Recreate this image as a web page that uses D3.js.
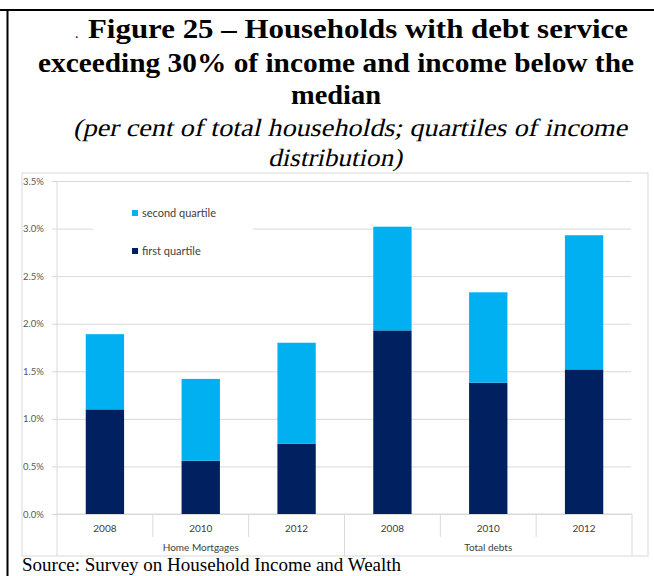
<!DOCTYPE html>
<html><head><meta charset="utf-8">
<script src="https://cdn.jsdelivr.net/npm/d3@7"></script>
<style>body{margin:0;background:#fff}svg{display:block}</style>
</head><body>
<svg id="c" width="654" height="576"></svg>
<script>
const years = ["2008","2010","2012","2008","2010","2012"];
const groups = ["Home Mortgages","Total debts"];
const groupOf = [0,0,0,1,1,1];
const firstQuartile = [1.10,0.56,0.74,1.93,1.38,1.52];
const secondQuartile = [0.79,0.86,1.06,1.09,0.95,1.41];
const yTicks = [0,0.5,1.0,1.5,2.0,2.5,3.0,3.5];
const seriesNames = ["second quartile","first quartile"];
const colors = {first:"#002060", second:"#00b0f0"};

(function(){
const svg = d3.select("#c");
const sans = "Lato, 'Open Sans', sans-serif";
const serif = "'Liberation Serif','Times New Roman',serif";
// page frame
svg.append("line").attr("x1",0).attr("x2",654).attr("y1",10).attr("y2",10).attr("stroke","#000").attr("stroke-width",2);
svg.append("line").attr("x1",7.5).attr("x2",7.5).attr("y1",10).attr("y2",576).attr("stroke","#000").attr("stroke-width",2);

// title
const titleLines = [
 {t:"Figure 25 \u2013 Households with debt service", x0:88, x1:628, y:38, bold:true, italic:false, fs:27},
 {t:"exceeding 30% of income and income below the", x0:38, x1:634, y:72, bold:true, italic:false, fs:27},
 {t:"median", x0:291, x1:381, y:104, bold:true, italic:false, fs:27},
 {t:"(per cent of total households; quartiles of income", x0:75, x1:629, y:136, bold:false, italic:true, fs:25},
 {t:"distribution)", x0:270, x1:404, y:166, bold:false, italic:true, fs:25}
];
svg.append("text").attr("x",75).attr("y",38).attr("font-family",serif).attr("font-size",14).attr("fill","#000").text(".");
titleLines.forEach(l=>{
  svg.append("text").attr("x",0).attr("y",0)
    .attr("transform",`translate(${l.x0 + (l.italic?-2:0)},${l.y})` + (l.italic?" skewX(-13)":""))
    .attr("font-family",serif)
    .attr("font-size",l.fs).attr("font-weight",l.bold?"bold":"normal")
    .attr("textLength",l.x1-l.x0).attr("lengthAdjust","spacingAndGlyphs")
    .attr("fill","#000").text(l.t);
});

// chart box
svg.append("rect").attr("x",22).attr("y",173).attr("width",626).attr("height",383)
  .attr("fill","#fff").attr("stroke","#d9d9d9").attr("stroke-width",1);

const pL=57, pR=632, pT=181, pB=514;
const y = d3.scaleLinear().domain([0,3.5]).range([pB,pT]);
const x = d3.scaleBand().domain(d3.range(years.length)).range([pL,pR]).paddingInner(0.6).paddingOuter(0.3);
const xb = d3.scaleBand().domain(d3.range(years.length)).range([pL,pR]);

// gridlines
const yAxis = d3.axisLeft(y).tickValues(yTicks).tickSize(-(pR-pL+5)).tickFormat(d=>d3.format(".1f")(d)+"%");
const ga = svg.append("g").attr("transform",`translate(${pL-5},0)`).call(yAxis);
ga.select(".domain").remove();
ga.selectAll(".tick line").attr("stroke","#d9d9d9").attr("stroke-width",1).attr("x1",0).attr("x2",pR-pL+4);
ga.selectAll(".tick text").attr("x",-29).attr("text-anchor","start")
  .attr("font-family",sans).attr("font-size",9.5).attr("fill","#595959");

// axis lines
svg.append("line").attr("x1",pL).attr("x2",pL).attr("y1",pT).attr("y2",556).attr("stroke","#d9d9d9");
svg.append("line").attr("x1",pL).attr("x2",pR).attr("y1",pB).attr("y2",pB).attr("stroke","#d9d9d9");
// category separators
d3.range(1,years.length+1).forEach(i=>{
  const xx = xb(i-1)+xb.bandwidth();
  const isGroup = (i===years.length) || groupOf[i]!==groupOf[i-1];
  svg.append("line").attr("x1",xx).attr("x2",xx).attr("y1",pB).attr("y2",isGroup?556:537).attr("stroke","#d9d9d9");
});

// legend background (covers gridline)
svg.append("rect").attr("x",93).attr("y",192).attr("width",160).attr("height",70).attr("fill","#fff");
const lg = [{n:seriesNames[0],c:colors.second,y:213},{n:seriesNames[1],c:colors.first,y:251}];
lg.forEach(d=>{
  svg.append("rect").attr("x",132).attr("y",d.y-3).attr("width",6).attr("height",6).attr("fill",d.c);
  svg.append("text").attr("x",142).attr("y",d.y+3.5).attr("font-family",sans)
    .attr("font-size",11).attr("fill","#404040").text(d.n);
});

// bars
const data = years.map((yr,i)=>({i, f:firstQuartile[i], s:secondQuartile[i]}));
svg.append("g").selectAll("rect").data(data).join("rect")
  .attr("x",d=>x(d.i)).attr("width",x.bandwidth())
  .attr("y",d=>y(d.f)).attr("height",d=>y(0)-y(d.f)).attr("fill",colors.first);
svg.append("g").selectAll("rect").data(data).join("rect")
  .attr("x",d=>x(d.i)).attr("width",x.bandwidth())
  .attr("y",d=>y(d.f+d.s)).attr("height",d=>y(d.f)-y(d.f+d.s)).attr("fill",colors.second);

// year labels
svg.append("g").selectAll("text").data(years).join("text")
  .attr("x",(d,i)=>xb(i)+xb.bandwidth()/2).attr("y",532).attr("text-anchor","middle")
  .attr("font-family",sans).attr("font-size",10).attr("fill","#404040").text(d=>d);
// group labels
groups.forEach((g,gi)=>{
  const idx = d3.range(years.length).filter(i=>groupOf[i]===gi);
  const x0 = xb(idx[0]), x1 = xb(idx[idx.length-1])+xb.bandwidth();
  svg.append("text").attr("x",(x0+x1)/2).attr("y",551).attr("text-anchor","middle")
    .attr("font-family",sans).attr("font-size",10).attr("fill","#404040").text(g);
});

// source
svg.append("text").attr("x",22).attr("y",571).attr("font-family",serif)
  .attr("font-size",19).attr("fill","#000").text("Source: Survey on Household Income and Wealth");
})();
</script>
</body></html>
